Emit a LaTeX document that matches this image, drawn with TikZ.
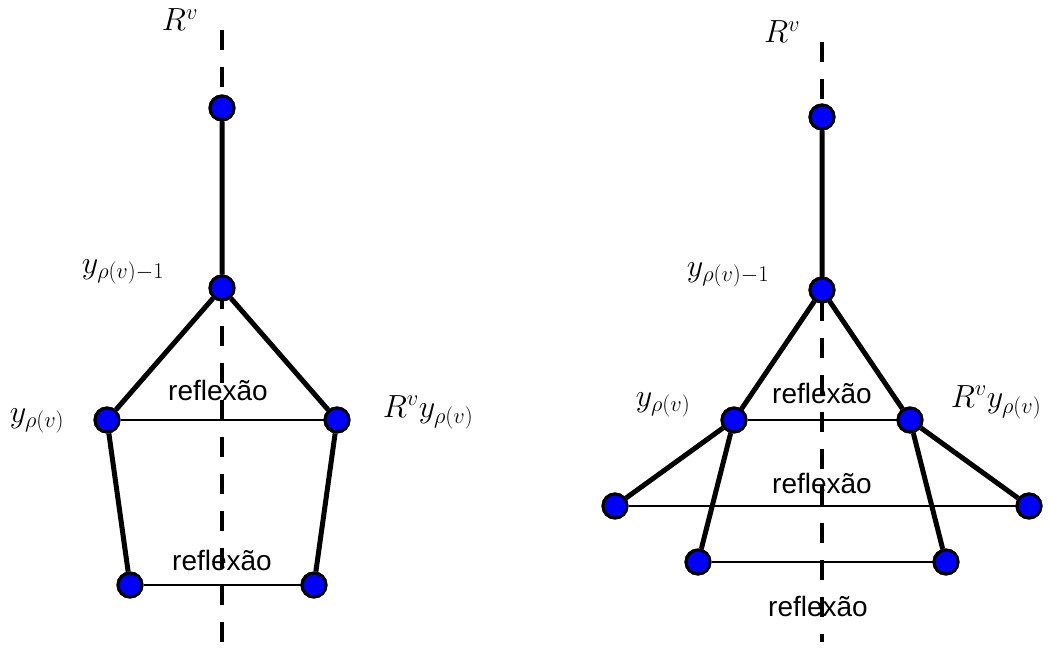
\RequirePackage{fix-cm}
\documentclass[tikz,border=0pt]{standalone}
\usepackage{fontspec}
\newfontfamily\labelfont{Liberation Sans}
\begin{document}
\begin{tikzpicture}[x=1pt,y=-1pt,
  vtx/.style={circle,fill=blue,draw=black,line width=3pt,minimum size=24pt,inner sep=0pt},
  thick edge/.style={line width=5pt},
  thin edge/.style={line width=1.6pt},
  axis/.style={line width=3.5pt,dash pattern=on 20pt off 17pt},
  mlab/.style={font=\fontsize{32}{38}\selectfont},
  rlab/.style={font=\labelfont\fontsize{28}{32}\selectfont}]
\useasboundingbox (0,0) rectangle (1049,659);
% ---------- left diagram ----------
\node[vtx] (a1) at (222,108) {};
\node[vtx] (a2) at (222,288) {};
\node[vtx] (a3) at (107,420) {};
\node[vtx] (a4) at (337,420) {};
\node[vtx] (a5) at (130,585) {};
\node[vtx] (a6) at (314,585) {};
\coordinate (at) at (222,30);
\coordinate (ab) at (222,656);
\node[mlab] (la1) at (180,20) {$R^v$};
\node[mlab] (la2) at (123,272) {$y_{\rho(v)-1}$};
\node[mlab] (la3) at (37,421) {$y_{\rho(v)}$};
\node[mlab] (la4) at (428,412) {$R^v y_{\rho(v)}$};
\node[rlab] (ra1) at (218,390) {reflexão};
\node[rlab] (ra2) at (222,560) {reflexão};
% ---------- right diagram ----------
\node[vtx] (b1) at (822,117) {};
\node[vtx] (b2) at (822,290) {};
\node[vtx] (b3) at (734,420) {};
\node[vtx] (b4) at (910,420) {};
\node[vtx] (b5) at (615,506) {};
\node[vtx] (b6) at (1029,506) {};
\node[vtx] (b7) at (698,562) {};
\node[vtx] (b8) at (946,562) {};
\coordinate (bt) at (822,42);
\coordinate (bb) at (822,642);
\node[mlab] (lb1) at (782,32) {$R^v$};
\node[mlab] (lb2) at (728,275) {$y_{\rho(v)-1}$};
\node[mlab] (lb3) at (663,405) {$y_{\rho(v)}$};
\node[mlab] (lb4) at (996,402) {$R^v y_{\rho(v)}$};
\node[rlab] (rb1) at (822,393) {reflexão};
\node[rlab] (rb2) at (822,483) {reflexão};
\node[rlab] (rb3) at (818,606) {reflexão};
% edges
\draw[thick edge] (a1) -- (a2) (a2) -- (a3) (a2) -- (a4) (a3) -- (a5) (a4) -- (a6);
\draw[thin edge] (a3) -- (a4) (a5) -- (a6);
\draw[axis] (at) -- (ab);
\draw[thick edge] (b1) -- (b2) (b2) -- (b3) (b2) -- (b4) (b3) -- (b5) (b3) -- (b7) (b4) -- (b6) (b4) -- (b8);
\draw[thin edge] (b3) -- (b4) (b7) -- (b8);
\draw[line width=2.4pt] (b5) -- (b6);
\draw[axis] (bt) -- (bb);
% redraw vertices on top
\foreach \p in {(222,108),(222,288),(107,420),(337,420),(130,585),(314,585),
  (822,117),(822,290),(734,420),(910,420),(615,506),(1029,506),(698,562),(946,562)}
  \node[vtx] at \p {};
\end{tikzpicture}
\end{document}
